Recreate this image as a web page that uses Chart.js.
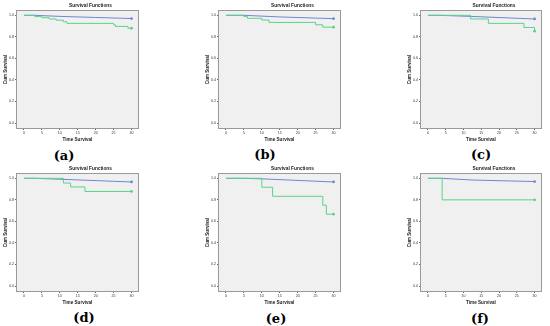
<!DOCTYPE html>
<html>
<head>
<meta charset="utf-8">
<script src="https://cdn.jsdelivr.net/npm/chart.js@4.4.1/dist/chart.umd.min.js"></script>
<style>
  body { margin: 0; background: #fff; }
  #page { position: relative; width: 550px; height: 326px; overflow: hidden; }
  canvas { position: absolute; }
  .lbl { position: absolute; font: bold 13px "DejaVu Serif", "Liberation Serif", serif; color: #000; transform: translate(-50%, -50%); white-space: nowrap; }
</style>
</head>
<body>
<div id="page"></div>
<script>
// axis ticks
const timeTicks = [0, 5, 10, 15, 20, 25, 30];
const survTicks = [0, 0.2, 0.4, 0.6, 0.8, 1.0];
const panelLabels = ["(a)", "(b)", "(c)", "(d)", "(e)", "(f)"];

// blue group (upper curve): time and cum survival
const blueTimeA = [0, 3, 10, 20, 30];
const blueSurvA = [1.0, 1.0, 0.99, 0.98, 0.97];
const blueTimeB = [0, 5, 15, 30];
const blueSurvB = [1.0, 1.0, 0.985, 0.969];
const blueTimeC = [0, 3, 12, 30];
const blueSurvC = [1.0, 1.0, 0.99, 0.966];
const blueTimeD = [0, 3, 11, 30];
const blueSurvD = [1.0, 1.0, 0.99, 0.966];
const blueTimeE = [0, 5, 10, 30];
const blueSurvE = [1.0, 1.0, 0.995, 0.966];
const blueTimeF = [0, 4, 12.5, 30];
const blueSurvF = [1.0, 1.0, 0.984, 0.97];

// green group (lower curve): step times and cum survival
const greenTimeA = [0, 3, 5, 7, 9, 11, 12, 25, 25.5, 29, 30];
const greenSurvA = [1.0, 0.988, 0.978, 0.966, 0.955, 0.94, 0.925, 0.912, 0.897, 0.88, 0.88];
const greenTimeB = [0, 5, 6, 10, 12, 25, 27, 30];
const greenSurvB = [1.0, 0.988, 0.972, 0.956, 0.934, 0.912, 0.89, 0.89];
const greenTimeC = [0, 12, 17, 27, 30];
const greenSurvC = [1.0, 0.966, 0.925, 0.887, 0.853];
const greenTimeD = [0, 11, 13, 17, 30];
const greenSurvD = [1.0, 0.956, 0.92, 0.878, 0.878];
const greenTimeE = [0, 10, 13, 27, 28, 30];
const greenSurvE = [1.0, 0.917, 0.833, 0.75, 0.667, 0.667];
const greenTimeF = [0, 4, 30];
const greenSurvF = [1.0, 0.8, 0.8];

const blueColor = "#7086d2";
const greenColor = "#58d48c";
const fam = '"Liberation Sans", Arial, sans-serif';

function pts(xs, ys) {
    return xs.map((x, i) => ({ x: x, y: ys[i] }));
}

const plotBox = {
    id: "plotBox",
    beforeDraw(chart) {
        let a = chart.chartArea;
        let ctx = chart.ctx;
        ctx.save();
        ctx.fillStyle = "#f0f0f0";
        ctx.fillRect(a.left, a.top, a.right - a.left, a.bottom - a.top);
        ctx.restore();
    },
    afterDraw(chart) {
        let a = chart.chartArea;
        let ctx = chart.ctx;
        ctx.save();
        ctx.strokeStyle = "#9a9a9a";
        ctx.lineWidth = 1;
        ctx.strokeRect(Math.round(a.left) - 0.5, Math.round(a.top) - 0.5, Math.round(a.right - a.left) + 1, Math.round(a.bottom - a.top) + 1);
        // chart title, centred a bit right of the plot like SPSS
        ctx.font = "bold 4.8px " + fam;
        ctx.fillStyle = "#222";
        ctx.textAlign = "center";
        ctx.textBaseline = "middle";
        ctx.fillText("Survival Functions", (a.left + a.right) / 2 + 13, a.top - 5.5);
        ctx.restore();
    }
};

const panels = [
    { left: 0, top: 0, padR: 8, blue: pts(blueTimeA, blueSurvA), green: pts(greenTimeA, greenSurvA) },
    { left: 202, top: 0, padR: 8, blue: pts(blueTimeB, blueSurvB), green: pts(greenTimeB, greenSurvB) },
    { left: 404, top: 0, padR: 9, blue: pts(blueTimeC, blueSurvC), green: pts(greenTimeC, greenSurvC) },
    { left: 0, top: 163, padR: 8, blue: pts(blueTimeD, blueSurvD), green: pts(greenTimeD, greenSurvD) },
    { left: 202, top: 163, padR: 8, blue: pts(blueTimeE, blueSurvE), green: pts(greenTimeE, greenSurvE) },
    { left: 404, top: 163, padR: 9, blue: pts(blueTimeF, blueSurvF), green: pts(greenTimeF, greenSurvF) }
];

const labelPos = [[64, 155], [265, 154], [481, 154], [84, 317], [276, 318], [480, 318]];

let page = document.getElementById("page");

function endPoint(ctx) {
    return ctx.dataIndex === ctx.dataset.data.length - 1 ? 1.4 : 0;
}

panels.forEach((p, i) => {
    let cv = document.createElement("canvas");
    cv.width = 146;
    cv.height = 146;
    cv.style.left = p.left + "px";
    cv.style.top = p.top + "px";
    page.appendChild(cv);

    new Chart(cv.getContext("2d"), {
        type: "line",
        data: {
            datasets: [
                {
                    data: p.green,
                    borderColor: greenColor,
                    backgroundColor: greenColor,
                    borderWidth: 1,
                    stepped: "before",
                    pointRadius: endPoint,
                    pointBorderWidth: 0
                },
                {
                    data: p.blue,
                    borderColor: blueColor,
                    backgroundColor: blueColor,
                    borderWidth: 1,
                    pointRadius: endPoint,
                    pointBorderWidth: 0
                }
            ]
        },
        options: {
            responsive: false,
            animation: false,
            devicePixelRatio: 1,
            layout: { padding: { top: 11, right: p.padR, left: 0, bottom: 0 } },
            plugins: { legend: { display: false }, tooltip: { enabled: false }, title: { display: false } },
            scales: {
                x: {
                    type: "linear",
                    min: -1.95,
                    max: 31.8,
                    afterBuildTicks: s => { s.ticks = timeTicks.map(v => ({ value: v })); },
                    afterFit: s => { s.height = 18; },
                    grid: { drawOnChartArea: false, drawTicks: true, tickLength: 2, color: "#666" },
                    border: { display: false },
                    ticks: { font: { size: 3.6, family: fam }, color: "#333", padding: 1, maxRotation: 0, autoSkip: false },
                    title: { display: true, text: "Time Survival", color: "#222", font: { size: 4.6, weight: "bold", family: fam }, padding: { top: 0, bottom: 3.2 } }
                },
                y: {
                    type: "linear",
                    min: -0.046,
                    max: 1.04,
                    afterBuildTicks: s => { s.ticks = survTicks.map(v => ({ value: v })); },
                    afterFit: s => { s.width = 17; },
                    grid: { drawOnChartArea: false, drawTicks: true, tickLength: 2, color: "#666" },
                    border: { display: false },
                    ticks: { font: { size: 3.6, family: fam }, color: "#333", padding: 1, callback: v => v.toFixed(1) },
                    title: { display: true, text: "Cum Survival", color: "#222", font: { size: 4.6, weight: "bold", family: fam }, padding: { top: 3.3, bottom: 0 } }
                }
            }
        },
        plugins: [plotBox]
    });

    let lb = document.createElement("div");
    lb.className = "lbl";
    lb.textContent = panelLabels[i];
    lb.style.left = labelPos[i][0] + "px";
    lb.style.top = labelPos[i][1] + "px";
    page.appendChild(lb);
});
</script>
</body>
</html>
